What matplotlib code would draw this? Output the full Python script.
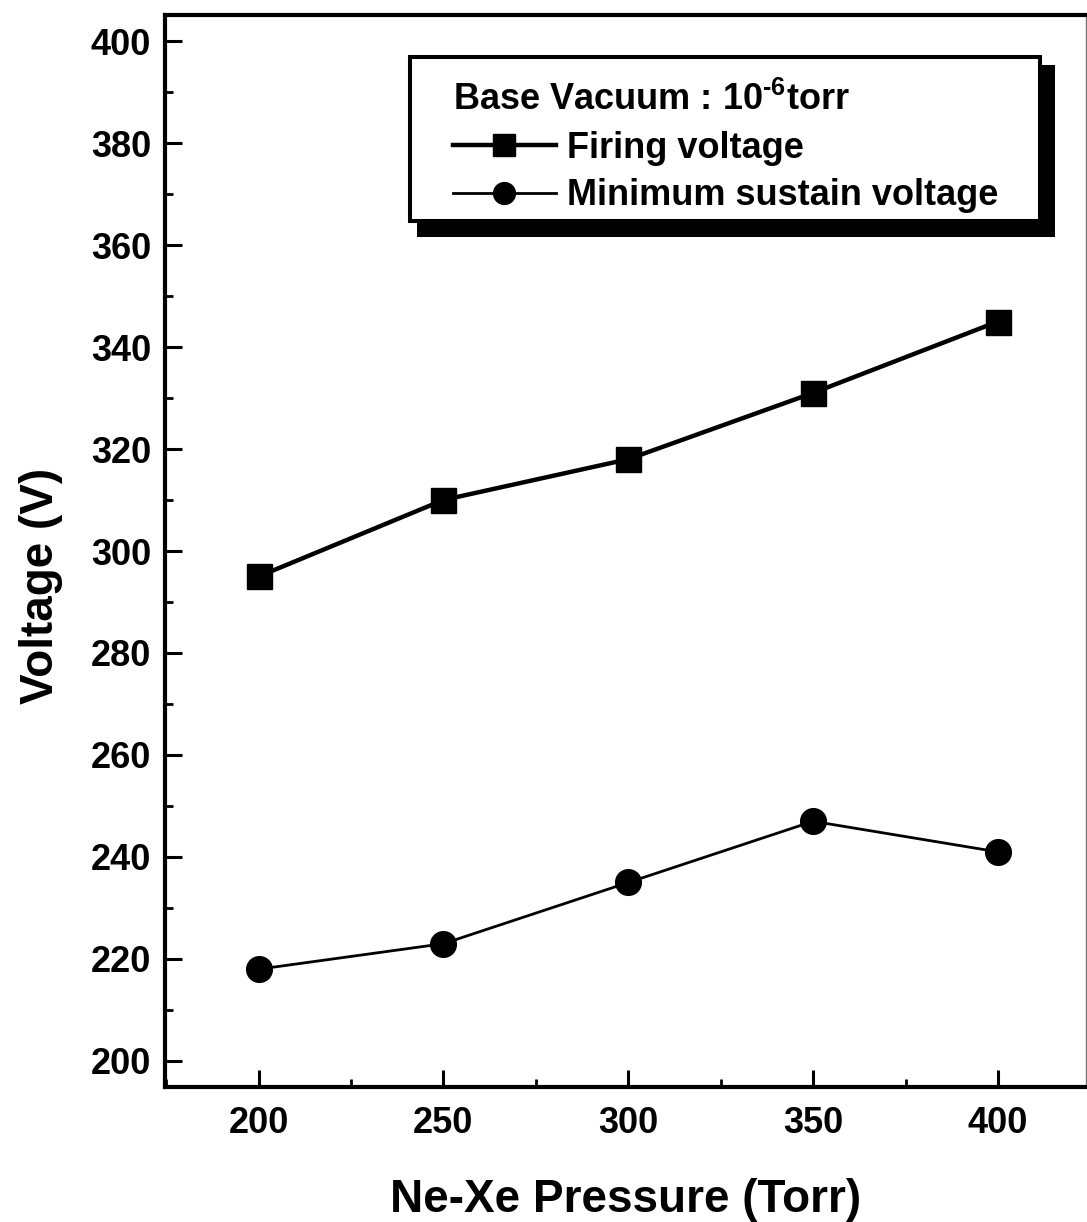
import matplotlib
matplotlib.use("Agg")
import matplotlib.pyplot as plt
from matplotlib.patches import Rectangle
from matplotlib.ticker import MultipleLocator

plt.rcParams['font.family'] = ['Liberation Sans', 'DejaVu Sans']
plt.rcParams['font.weight'] = 'bold'
plt.rcParams['mathtext.fontset'] = 'custom'
plt.rcParams['mathtext.rm'] = 'Liberation Sans:bold'
plt.rcParams['mathtext.bf'] = 'Liberation Sans:bold'
plt.rcParams['mathtext.default'] = 'bf'

# ---- data ----
pressure = [200, 250, 300, 350, 400]
firing_voltage = [295, 310, 318, 331, 345]
sustain_voltage = [218, 223, 235, 247, 241]
x_ticks = [200, 250, 300, 350, 400]
y_ticks = [200, 220, 240, 260, 280, 300, 320, 340, 360, 380, 400]
legend_title = "Base Vacuum : 10$^{\u20106}$torr"
series_labels = ["Firing voltage", "Minimum sustain voltage"]
x_label = "Ne-Xe Pressure (Torr)"
y_label = "Voltage (V)"

W, H = 1087, 1222
fig = plt.figure(figsize=(W / 100, H / 100), dpi=100)
ax = fig.add_axes([165 / W, 1 - 1087 / H, (1086 - 165) / W, (1087 - 15) / H])

ax.plot(pressure, firing_voltage, color='black', lw=3.2, marker='s',
        markersize=18, mew=1, label=series_labels[0], zorder=3)
ax.plot(pressure, sustain_voltage, color='black', lw=2, marker='o',
        markersize=18.5, mew=1, label=series_labels[1], zorder=3)

ax.set_xlim(174.7, 423.8)
ax.set_ylim(194.9, 405.1)
ax.set_xticks(x_ticks)
ax.set_yticks(y_ticks)
ax.xaxis.set_minor_locator(MultipleLocator(25))
ax.yaxis.set_minor_locator(MultipleLocator(10))
ax.tick_params(which='major', direction='in', length=12, width=2.2,
               labelsize=26, top=False, right=False, pad=10)
ax.tick_params(which='minor', direction='in', length=6, width=2,
               top=False, right=False)
ax.tick_params(axis='x', which='major', pad=14)

for s in ['left', 'bottom', 'top']:
    ax.spines[s].set_linewidth(3)
ax.spines['right'].set_linewidth(1)
ax.spines['right'].set_color('0.45')

ax.set_xlabel(x_label, fontsize=33, fontweight='bold', labelpad=26)
ax.set_ylabel(y_label, fontsize=33, fontweight='bold')
ax.yaxis.set_label_coords(-0.111, 0.467)

# legend frame with shadow (figure-pixel placement)
def fr(x0, y0, x1, y1):
    return (x0 / W, 1 - y1 / H), (x1 - x0) / W, (y1 - y0) / H

xy, w, h = fr(417, 65, 1055, 237)
fig.add_artist(Rectangle(xy, w, h, transform=fig.transFigure,
                         facecolor='black', edgecolor='none', zorder=5))
xy, w, h = fr(410, 57, 1040, 221)
fig.add_artist(Rectangle(xy, w, h, transform=fig.transFigure,
                         facecolor='white', edgecolor='black', lw=2.9, zorder=6))

leg = ax.legend(title=legend_title, loc='upper left',
                bbox_to_anchor=(453 / W, 1 - 82 / H), bbox_transform=fig.transFigure,
                frameon=False, borderpad=0, borderaxespad=0,
                fontsize=26, title_fontsize=26,
                handlelength=2.85, handletextpad=0.3, labelspacing=0.35,
                markerscale=0.85, alignment='left')
leg.set_zorder(7)
fig.add_artist(leg)

fig.savefig("out.png", dpi=100)
